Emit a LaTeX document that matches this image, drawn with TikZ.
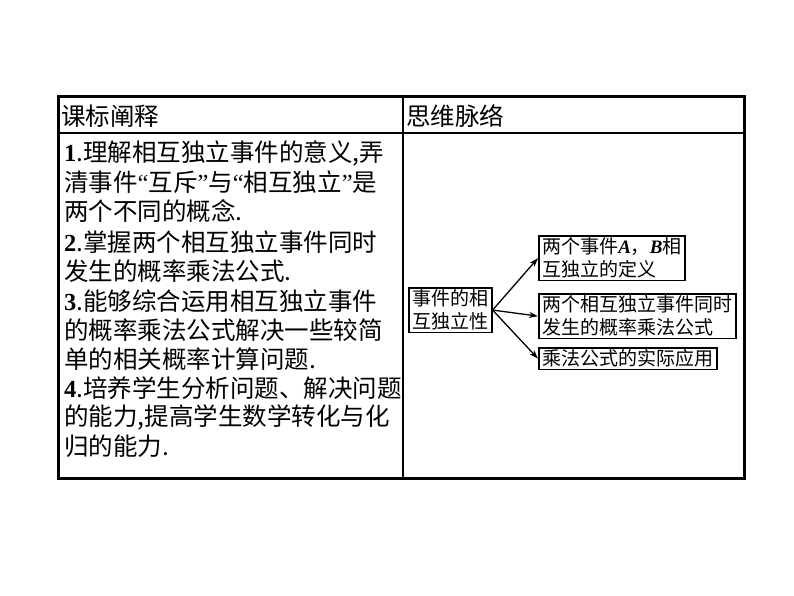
\documentclass[tikz,border=0pt]{standalone}
\usepackage{fontspec}
\newfontfamily\cjk{Noto Sans CJK SC}
\newfontfamily\ser{Liberation Serif}
\usetikzlibrary{arrows.meta}
\begin{document}
\begin{tikzpicture}[x=1pt,y=-1pt,
  ln/.style={anchor=west,inner sep=0pt,font=\cjk\fontsize{24.5}{26}\selectfont},
  bx/.style={draw,line width=1.6pt,align=left,inner xsep=3.5pt,inner ysep=2pt,anchor=north west,font=\cjk\fontsize{19}{23}\selectfont},
  ar/.style={line width=1.3pt,-{Stealth[length=9pt,width=6pt]}}]
\useasboundingbox (0,0) rectangle (794,596);
\draw[line width=3pt] (58,97) rectangle (744,478);
\draw[line width=2pt] (58,133) -- (744,133);
\draw[line width=2pt] (403,97) -- (403,478);
\node[ln] (h1) at (61,116) {课标阐释};
\node[ln] (h2) at (406,116) {思维脉络};
\def\n#1{{\ser\bfseries #1}}
\def\q#1{{\ser #1}}
\node[ln] (l1) at (64,153) {\n{1}.理解相互独立事件的意义,弄};
\node[ln] (l2) at (64,182) {清事件\q{“}互斥\q{”}与\q{“}相互独立\q{”}是};
\node[ln] (l3) at (64,211) {两个不同的概念.};
\node[ln] (l4) at (64,242) {\n{2}.掌握两个相互独立事件同时};
\node[ln] (l5) at (64,271) {发生的概率乘法公式.};
\node[ln] (l6) at (64,301) {\n{3}.能够综合运用相互独立事件};
\node[ln] (l7) at (64,330) {的概率乘法公式解决一些较简};
\node[ln] (l8) at (64,359) {单的相关概率计算问题.};
\node[ln] (l9) at (64,388) {\n{4}.培养学生分析问题、解决问题};
\node[ln] (l10) at (64,417) {的能力,提高学生数学转化与化};
\node[ln] (l11) at (64,446) {归的能力.};
\node[bx] (c) at (408,287) {事件的相\\互独立性};
\node[bx] (b1) at (538,235) {两个事件{\ser\bfseries\itshape A}，{\ser\bfseries\itshape B}相\\互独立的定义};
\node[bx] (b2) at (538,293) {两个相互独立事件同时\\发生的概率乘法公式};
\node[bx] (b3) at (538,347) {乘法公式的实际应用};
\coordinate (o) at (c.east);
\draw[ar] (o) -- (b1.west);
\draw[ar] (o) -- (b2.west);
\draw[ar] (o) -- (b3.west);
\end{tikzpicture}
\end{document}
